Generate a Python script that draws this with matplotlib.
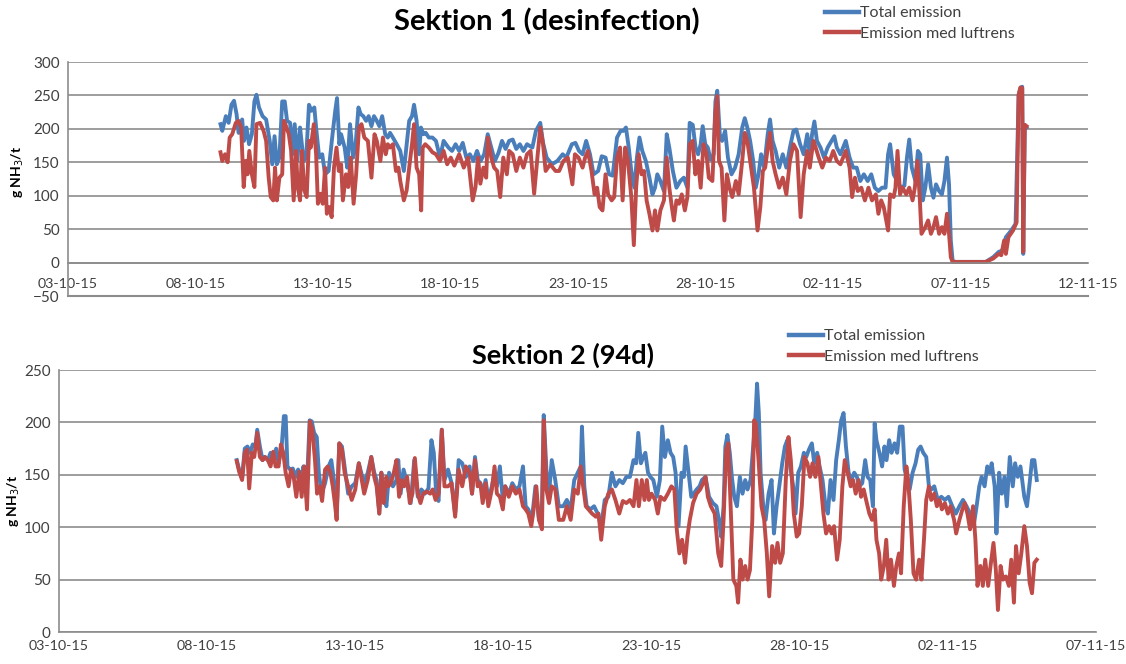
import numpy as np
import pandas as pd
import matplotlib
matplotlib.use("Agg")
import matplotlib.pyplot as plt
import matplotlib.dates as mdates
from matplotlib.lines import Line2D

plt.rcParams['font.family'] = ['Lato', 'DejaVu Sans']

START = pd.Timestamp("2015-10-03")

# Sektion 1 (desinfection) - days after 03-10-15 and g NH3/t
s1_total_day = [5.98, 6.05, 6.19, 6.30, 6.41, 6.51, 6.61, 6.69, 6.83, 6.90, 7.00, 7.10, 7.21, 7.31, 7.39, 7.49,
                7.63, 7.77, 7.91, 8.01, 8.10, 8.19, 8.29, 8.40, 8.50, 8.59, 8.71, 8.80, 8.89, 8.99, 9.10, 9.24,
                9.34, 9.45, 9.55, 9.66, 9.73, 9.85, 9.97, 10.08, 10.22, 10.36, 10.48, 10.55, 10.64, 10.71, 10.85,
                10.95, 11.06, 11.18, 11.27, 11.39, 11.48, 11.58, 11.69, 11.79, 11.90, 12.00, 12.11, 12.21, 12.32,
                12.44, 12.54, 12.63, 12.74, 12.89, 13.03, 13.17, 13.28, 13.38, 13.49, 13.57, 13.67, 13.77, 13.84,
                13.94, 14.03, 14.15, 14.29, 14.43, 14.59, 14.73, 14.92, 15.06, 15.20, 15.34, 15.48, 15.62, 15.76,
                15.90, 16.04, 16.18, 16.32, 16.46, 16.60, 16.74, 16.88, 17.02, 17.16, 17.30, 17.44, 17.58, 17.72,
                17.86, 18.00, 18.21, 18.35, 18.52, 18.63, 18.77, 18.98, 19.19, 19.40, 19.54, 19.76, 19.90, 20.04,
                20.18, 20.32, 20.47, 20.61, 20.79, 20.93, 21.08, 21.22, 21.36, 21.53, 21.67, 21.78, 21.88, 21.99,
                22.09, 22.21, 22.31, 22.41, 22.52, 22.66, 22.80, 22.92, 23.02, 23.11, 23.23, 23.37, 23.48, 23.58,
                23.72, 23.86, 24.01, 24.15, 24.29, 24.38, 24.50, 24.61, 24.71, 24.81, 24.89, 24.99, 25.09, 25.20,
                25.32, 25.39, 25.46, 25.56, 25.65, 25.77, 25.88, 26.02, 26.16, 26.30, 26.44, 26.54, 26.64, 26.75,
                26.87, 26.97, 27.08, 27.18, 27.30, 27.44, 27.53, 27.63, 27.75, 27.89, 28.03, 28.17, 28.31, 28.45,
                28.56, 28.71, 28.85, 28.99, 29.09, 29.18, 29.27, 29.37, 29.51, 29.65, 29.79, 29.94, 30.05, 30.15,
                30.29, 30.50, 30.65, 30.79, 30.93, 31.07, 31.21, 31.36, 31.50, 31.64, 31.78, 31.92, 32.06, 32.16,
                32.24, 32.38, 32.52, 32.66, 32.80, 32.90, 32.99, 33.09, 33.23, 33.33, 33.42, 33.52, 33.62, 33.73,
                33.84, 33.94, 34.04, 34.16, 34.27, 34.37, 34.47, 34.55, 34.62, 34.69, 34.79, 35.99, 36.28, 36.50,
                36.64, 36.78, 36.99, 37.16, 37.28, 37.35, 37.42, 37.46, 37.52, 37.59]
s1_total_val = [207, 197, 219, 209, 236, 242, 222, 194, 214, 182, 202, 177, 192, 241, 251, 232,
                219, 214, 182, 147, 189, 147, 157, 241, 241, 212, 209, 162, 207, 152, 202, 152,
                157, 236, 227, 232, 202, 157, 162, 132, 137, 187, 227, 246, 177, 192, 172,
                142, 207, 157, 172, 232, 222, 219, 212, 219, 204, 219, 212, 204, 219,
                192, 187, 194, 187, 177, 167, 137, 177, 212, 219, 236, 212, 162, 202,
                192, 194, 187, 187, 182, 157, 182, 172, 167, 177, 167, 179, 157, 162,
                152, 167, 152, 162, 192, 172, 152, 164, 182, 170, 182, 184, 170, 177,
                167, 177, 172, 197, 209, 179, 157, 147, 152, 162, 157, 177, 179, 167,
                162, 182, 162, 132, 137, 159, 157, 132, 130, 187, 197, 197, 202, 172,
                137, 112, 157, 187, 167, 152, 127, 102, 112, 132, 122, 107, 192, 172,
                137, 112, 122, 127, 112, 209, 206, 172, 162, 177, 204, 177, 172, 154,
                162, 241, 257, 192, 182, 197, 157, 132, 142, 162, 202, 216, 202, 182,
                152, 112, 132, 162, 142, 192, 214, 182, 167, 142, 162, 142, 172, 197,
                199, 177, 162, 192, 162, 192, 211, 182, 172, 157, 172, 182, 189, 172,
                162, 182, 157, 142, 142, 122, 132, 122, 132, 112, 107, 112, 112, 162,
                177, 132, 122, 112, 115, 157, 184, 142, 122, 167, 162, 93, 112, 147,
                112, 97, 117, 107, 102, 122, 157, 117, 33, 3, 1, 1, 8, 16,
                18, 38, 48, 58, 251, 261, 263, 13, 206, 202]

s1_luft_day = [5.98, 6.05, 6.16, 6.26, 6.34, 6.44, 6.58, 6.69, 6.79, 6.89, 6.97, 7.04, 7.11, 7.21, 7.31, 7.39,
               7.53, 7.67, 7.77, 7.87, 7.95, 8.05, 8.12, 8.19, 8.29, 8.40, 8.47, 8.57, 8.66, 8.75, 8.85, 8.94,
               9.01, 9.10, 9.17, 9.27, 9.36, 9.45, 9.52, 9.64, 9.73, 9.80, 9.90, 9.99, 10.08, 10.15, 10.25,
               10.34, 10.43, 10.53, 10.62, 10.71, 10.78, 10.90, 10.99, 11.09, 11.20, 11.30, 11.41, 11.51, 11.62,
               11.76, 11.90, 12.02, 12.11, 12.25, 12.35, 12.46, 12.54, 12.63, 12.74, 12.86, 12.96, 13.03, 13.17,
               13.28, 13.38, 13.49, 13.57, 13.67, 13.77, 13.85, 13.91, 14.01, 14.15, 14.29, 14.43, 14.59, 14.73,
               14.87, 15.01, 15.15, 15.34, 15.52, 15.69, 15.87, 15.98, 16.08, 16.17, 16.29, 16.40, 16.46, 16.60,
               16.71, 16.83, 16.95, 17.07, 17.21, 17.30, 17.44, 17.58, 17.72, 17.86, 18.00, 18.14, 18.28, 18.42,
               18.52, 18.63, 18.73, 18.91, 19.12, 19.26, 19.43, 19.60, 19.78, 19.88, 20.02, 20.18, 20.28, 20.39,
               20.53, 20.65, 20.75, 20.85, 20.96, 21.08, 21.18, 21.32, 21.42, 21.53, 21.65, 21.75, 21.85, 21.96,
               22.09, 22.19, 22.28, 22.38, 22.49, 22.59, 22.69, 22.80, 22.92, 23.02, 23.11, 23.23, 23.37, 23.48,
               23.58, 23.68, 23.76, 23.86, 23.96, 24.07, 24.19, 24.29, 24.38, 24.50, 24.60, 24.71, 24.81, 24.92,
               25.04, 25.13, 25.27, 25.39, 25.46, 25.53, 25.63, 25.74, 25.84, 25.94, 26.05, 26.19, 26.30, 26.44,
               26.54, 26.64, 26.75, 26.90, 27.04, 27.15, 27.25, 27.34, 27.46, 27.53, 27.63, 27.75, 27.89, 28.03,
               28.17, 28.31, 28.45, 28.59, 28.73, 28.85, 28.99, 29.09, 29.23, 29.32, 29.44, 29.58, 29.72, 29.87,
               30.01, 30.15, 30.29, 30.50, 30.65, 30.75, 30.86, 30.97, 31.11, 31.25, 31.39, 31.53, 31.68, 31.78,
               31.89, 31.99, 32.16, 32.24, 32.38, 32.45, 32.53, 32.63, 32.73, 32.87, 32.99, 33.12, 33.21, 33.31,
               33.40, 33.47, 33.62, 33.73, 33.84, 33.94, 34.04, 34.16, 34.27, 34.37, 34.47, 34.55, 34.62, 34.69,
               35.99, 36.28, 36.50, 36.60, 36.71, 36.78, 36.88, 37.06, 37.20, 37.28, 37.35, 37.42, 37.46, 37.52,
               37.59]
s1_luft_val = [165, 152, 162, 150, 187, 192, 209, 212, 202, 113, 152, 132, 167, 132, 113, 207,
               209, 197, 182, 127, 98, 93, 142, 93, 127, 132, 212, 202, 192, 167, 93, 167,
               113, 93, 167, 108, 98, 182, 172, 207, 162, 88, 103, 88, 142, 73, 83,
               68, 142, 172, 137, 147, 93, 132, 113, 157, 88, 132, 202, 207, 187,
               182, 127, 192, 182, 152, 187, 162, 177, 172, 177, 137, 142, 122, 93,
               108, 142, 177, 207, 142, 132, 78, 172, 177, 172, 165, 162, 152, 167,
               147, 157, 145, 162, 142, 157, 93, 113, 157, 118, 142, 127, 187, 157,
               142, 137, 98, 157, 132, 167, 162, 137, 157, 142, 162, 167, 103, 162,
               202, 177, 137, 147, 137, 137, 152, 157, 117, 162, 157, 142, 157, 167,
               137, 102, 112, 83, 78, 132, 102, 93, 98, 157, 172, 93, 172, 152,
               98, 26, 112, 162, 132, 137, 93, 73, 48, 78, 48, 78, 93, 157,
               112, 83, 63, 93, 88, 102, 78, 98, 177, 182, 132, 152, 112, 177,
               162, 127, 122, 226, 249, 152, 142, 63, 132, 112, 98, 122, 102, 152,
               194, 182, 152, 112, 48, 83, 137, 142, 177, 194, 152, 132, 112, 127,
               102, 152, 177, 167, 68, 132, 167, 142, 182, 172, 157, 142, 157, 152,
               167, 152, 147, 167, 142, 98, 127, 107, 112, 93, 112, 93, 102, 73,
               93, 83, 48, 102, 98, 112, 167, 102, 112, 102, 112, 93, 112, 152,
               98, 43, 53, 63, 43, 53, 68, 43, 53, 43, 73, 43, 8, 1,
               1, 6, 13, 11, 33, 13, 38, 48, 60, 251, 262, 261, 16, 206,
               204]

# Sektion 2 (94d)
s2_total_day = [6.00, 6.08, 6.18, 6.27, 6.36, 6.45, 6.54, 6.63, 6.69, 6.78, 6.87, 6.95, 7.05, 7.14, 7.23, 7.33,
                7.41, 7.51, 7.59, 7.65, 7.71, 7.80, 7.89, 7.99, 8.07, 8.17, 8.25, 8.35, 8.46, 8.53, 8.61, 8.70,
                8.77, 8.86, 8.98, 9.10, 9.19, 9.28, 9.37, 9.46, 9.55, 9.64, 9.76, 9.88, 10.00, 10.12, 10.20,
                10.30, 10.42, 10.54, 10.64, 10.72, 10.81, 10.88, 10.96, 11.05, 11.14, 11.27, 11.39, 11.45, 11.53,
                11.63, 11.75, 11.87, 11.99, 12.11, 12.23, 12.35, 12.47, 12.57, 12.65, 12.73, 12.81, 12.92, 13.01,
                13.13, 13.25, 13.37, 13.49, 13.61, 13.73, 13.86, 13.94, 14.04, 14.13, 14.22, 14.30, 14.40, 14.49,
                14.61, 14.70, 14.78, 14.88, 14.98, 15.06, 15.18, 15.30, 15.42, 15.54, 15.66, 15.75, 15.84, 15.96,
                16.08, 16.20, 16.30, 16.36, 16.45, 16.54, 16.63, 16.75, 16.87, 17.02, 17.14, 17.27, 17.39, 17.51,
                17.61, 17.65, 17.73, 17.81, 17.93, 18.06, 18.18, 18.30, 18.42, 18.54, 18.66, 18.78, 18.91, 19.03,
                19.15, 19.27, 19.39, 19.48, 19.55, 19.64, 19.72, 19.79, 19.88, 19.96, 20.06, 20.18, 20.28, 20.36,
                20.45, 20.55, 20.64, 20.73, 20.81, 20.91, 21.01, 21.09, 21.15, 21.25, 21.34, 21.42, 21.52, 21.62,
                21.70, 21.82, 21.94, 22.07, 22.19, 22.27, 22.35, 22.43, 22.49, 22.56, 22.64, 22.71, 22.79, 22.88,
                22.98, 23.07, 23.16, 23.24, 23.34, 23.44, 23.50, 23.56, 23.62, 23.68, 23.77, 23.85, 23.95, 24.05,
                24.13, 24.22, 24.31, 24.41, 24.50, 24.58, 24.68, 24.78, 24.86, 24.95, 25.04, 25.14, 25.22, 25.31,
                25.41, 25.49, 25.59, 25.67, 25.77, 25.87, 25.95, 26.04, 26.14, 26.23, 26.32, 26.40, 26.48, 26.56,
                26.65, 26.74, 26.84, 26.93, 27.01, 27.11, 27.21, 27.29, 27.38, 27.47, 27.53, 27.59, 27.69, 27.78,
                27.86, 27.93, 28.02, 28.10, 28.20, 28.29, 28.38, 28.47, 28.54, 28.63, 28.71, 28.81, 28.91, 29.00,
                29.08, 29.17, 29.27, 29.36, 29.44, 29.54, 29.66, 29.78, 29.90, 30.02, 30.15, 30.27, 30.39, 30.51,
                30.63, 30.75, 30.87, 30.97, 31.06, 31.14, 31.24, 31.33, 31.42, 31.48, 31.58, 31.64, 31.73, 31.82,
                31.91, 31.99, 32.09, 32.19, 32.27, 32.36, 32.45, 32.58, 32.67, 32.76, 32.84, 32.92, 33.00]
s2_total_val = [164, 155, 147, 175, 177, 171, 179, 177, 193, 177, 164, 167, 164, 171, 163, 175,
                161, 175, 206, 206, 158, 155, 156, 148, 155, 145, 158, 129, 202, 201, 190, 186,
                152, 132, 142, 158, 164, 145, 110, 180, 177, 158, 132, 139, 142, 161, 152,
                142, 152, 167, 152, 145, 113, 152, 132, 120, 152, 139, 145, 164, 132,
                155, 142, 123, 164, 129, 136, 132, 137, 183, 171, 132, 125, 193, 145,
                155, 142, 113, 164, 161, 148, 158, 132, 167, 145, 142, 132, 145, 126,
                139, 152, 139, 158, 126, 139, 132, 142, 136, 139, 158, 120, 117, 107,
                139, 107, 120, 207, 155, 132, 164, 145, 120, 120, 126, 117, 145, 152,
                158, 196, 139, 120, 117, 120, 113, 101, 126, 129, 152, 139, 145, 142,
                148, 148, 164, 161, 190, 161, 167, 171, 152, 148, 145, 129, 145, 196,
                167, 183, 171, 167, 152, 101, 152, 148, 177, 152, 129, 132, 136, 139,
                145, 148, 129, 123, 120, 107, 91, 120, 177, 188, 171, 148, 129, 120,
                148, 132, 145, 136, 145, 180, 202, 237, 209, 152, 120, 107, 132, 145,
                94, 120, 139, 161, 177, 183, 158, 139, 113, 152, 158, 171, 167, 174,
                180, 161, 171, 158, 145, 120, 113, 145, 126, 164, 183, 202, 209, 177,
                152, 145, 152, 148, 139, 142, 164, 148, 145, 120, 199, 183, 171, 158,
                177, 164, 183, 171, 180, 171, 196, 196, 155, 145, 136, 152, 161, 174,
                177, 171, 167, 139, 136, 139, 126, 129, 126, 129, 120, 113, 120, 126,
                120, 113, 101, 120, 139, 148, 139, 158, 152, 161, 139, 94, 152, 132,
                148, 120, 167, 139, 161, 148, 158, 129, 120, 142, 164, 164, 145]

s2_luft_day = [6.00, 6.08, 6.18, 6.27, 6.35, 6.42, 6.51, 6.59, 6.69, 6.78, 6.87, 6.95, 7.05, 7.14, 7.23, 7.31,
               7.41, 7.49, 7.57, 7.65, 7.75, 7.83, 7.92, 8.01, 8.11, 8.19, 8.28, 8.37, 8.47, 8.55, 8.64, 8.71,
               8.80, 8.88, 8.98, 9.07, 9.16, 9.24, 9.31, 9.37, 9.46, 9.55, 9.64, 9.76, 9.88, 10.00, 10.12,
               10.20, 10.30, 10.42, 10.54, 10.64, 10.72, 10.81, 10.88, 10.96, 11.05, 11.12, 11.20, 11.30, 11.39,
               11.48, 11.57, 11.65, 11.75, 11.84, 11.93, 12.01, 12.11, 12.20, 12.29, 12.41, 12.53, 12.61, 12.71,
               12.81, 12.92, 13.01, 13.13, 13.25, 13.37, 13.49, 13.61, 13.73, 13.86, 13.94, 14.04, 14.13, 14.22,
               14.30, 14.40, 14.49, 14.61, 14.70, 14.78, 14.88, 14.98, 15.06, 15.18, 15.30, 15.42, 15.54, 15.66,
               15.75, 15.84, 15.94, 16.02, 16.11, 16.20, 16.30, 16.36, 16.45, 16.54, 16.63, 16.75, 16.87, 17.02,
               17.14, 17.27, 17.39, 17.51, 17.61, 17.69, 17.78, 17.87, 17.99, 18.12, 18.21, 18.30, 18.42, 18.54,
               18.66, 18.78, 18.91, 19.03, 19.15, 19.27, 19.39, 19.49, 19.57, 19.67, 19.76, 19.84, 19.91, 20.00,
               20.12, 20.21, 20.30, 20.43, 20.55, 20.67, 20.77, 20.85, 20.94, 21.03, 21.13, 21.21, 21.29, 21.40,
               21.52, 21.64, 21.74, 21.82, 21.90, 22.00, 22.13, 22.25, 22.35, 22.43, 22.52, 22.59, 22.67, 22.76,
               22.86, 22.92, 23.00, 23.07, 23.16, 23.24, 23.32, 23.40, 23.46, 23.52, 23.61, 23.71, 23.80, 23.89,
               23.97, 24.07, 24.17, 24.25, 24.34, 24.43, 24.53, 24.62, 24.70, 24.80, 24.90, 24.98, 25.07, 25.16,
               25.26, 25.35, 25.43, 25.53, 25.63, 25.72, 25.80, 25.89, 25.99, 26.08, 26.16, 26.26, 26.35, 26.44,
               26.52, 26.62, 26.72, 26.80, 26.89, 26.99, 27.07, 27.16, 27.24, 27.35, 27.44, 27.53, 27.59, 27.68,
               27.75, 27.84, 27.92, 28.00, 28.08, 28.18, 28.26, 28.35, 28.42, 28.51, 28.60, 28.66, 28.75, 28.84,
               28.93, 29.03, 29.11, 29.20, 29.27, 29.36, 29.44, 29.54, 29.63, 29.72, 29.80, 29.90, 30.00, 30.09,
               30.21, 30.28, 30.39, 30.49, 30.57, 30.66, 30.75, 30.85, 30.93, 31.00, 31.10, 31.18, 31.26, 31.36,
               31.44, 31.54, 31.62, 31.69, 31.78, 31.86, 31.96, 32.06, 32.14, 32.23, 32.30, 32.39, 32.48, 32.58,
               32.67, 32.76, 32.84, 32.92, 33.00]
s2_luft_val = [163, 153, 145, 171, 174, 137, 171, 167, 190, 167, 164, 167, 164, 158, 172, 158,
               158, 179, 171, 152, 139, 155, 148, 129, 153, 129, 158, 117, 201, 193, 164, 132,
               139, 125, 155, 158, 152, 139, 123, 107, 180, 174, 152, 139, 126, 136, 161,
               148, 132, 145, 167, 148, 139, 113, 152, 123, 148, 139, 142, 152, 164,
               129, 145, 139, 148, 123, 132, 166, 132, 123, 132, 134, 132, 136, 126,
               132, 193, 139, 139, 142, 110, 155, 139, 158, 152, 132, 164, 139, 142,
               123, 142, 120, 136, 158, 132, 129, 117, 139, 129, 139, 132, 136, 120,
               117, 113, 101, 117, 139, 107, 98, 202, 136, 123, 139, 136, 107, 107,
               120, 107, 136, 132, 158, 139, 120, 117, 113, 110, 113, 88, 120, 132,
               136, 126, 113, 125, 123, 126, 120, 145, 120, 145, 126, 145, 126, 132,
               126, 113, 129, 126, 132, 139, 136, 98, 75, 88, 66, 91, 107, 123,
               132, 136, 142, 148, 129, 120, 113, 75, 63, 107, 174, 180, 120, 50,
               44, 28, 69, 50, 63, 50, 59, 107, 202, 199, 164, 120, 107, 75,
               34, 82, 66, 85, 66, 75, 145, 186, 164, 113, 91, 94, 120, 167,
               161, 148, 161, 148, 167, 139, 113, 94, 101, 94, 101, 69, 88, 139,
               164, 152, 139, 145, 132, 145, 129, 136, 126, 113, 107, 117, 88, 75,
               50, 63, 88, 50, 69, 44, 63, 75, 56, 120, 158, 145, 107, 56,
               50, 69, 50, 91, 126, 139, 126, 132, 120, 126, 117, 123, 113, 120,
               107, 94, 107, 117, 123, 113, 98, 120, 88, 44, 63, 44, 69, 44,
               63, 85, 59, 21, 63, 50, 53, 44, 69, 28, 82, 56, 75, 101,
               82, 47, 37, 66, 69]

x_ticks_1 = pd.date_range("2015-10-03", "2015-11-12", freq="5D")
x_ticks_2 = pd.date_range("2015-10-03", "2015-11-07", freq="5D")
y_ticks_1 = list(range(-50, 301, 50))
y_ticks_2 = list(range(0, 251, 50))

BLUE = "#4A7EBB"
RED = "#BE4B48"
GRID = "#8C8C8C"
TXT = "#404040"
W, H = 1126, 664


def to_dates(days):
    return START + pd.to_timedelta(np.array(days), unit="D")


def style_axis(ax, x_ticks, y_ticks, xmax):
    ax.set_xlim(x_ticks[0], pd.Timestamp(xmax))
    ax.set_ylim(y_ticks[0], y_ticks[-1])
    ax.set_xticks(x_ticks)
    ax.xaxis.set_major_formatter(mdates.DateFormatter("%d-%m-%y"))
    ax.set_yticks(y_ticks)
    for s in ["top", "right"]:
        ax.spines[s].set_visible(False)
    for s in ["left", "bottom"]:
        ax.spines[s].set_color(GRID)
        ax.spines[s].set_linewidth(1.2)
    ax.grid(axis="y", color=GRID, linewidth=1.2)
    ax.set_axisbelow(True)
    ax.tick_params(length=0, labelsize=10.3, colors=TXT, pad=6)
    ax.tick_params(axis="y", labelsize=11)
    ax.set_ylabel("g NH$_3$/t", fontsize=10, fontweight="bold", color="black")


fig = plt.figure(figsize=(W / 100, H / 100), dpi=100)

# top panel
ax1 = fig.add_axes([68 / W, 1 - 296 / H, 1020 / W, 234 / H])
ax1.plot(to_dates(s1_total_day), s1_total_val, color=BLUE, lw=2.8)
ax1.plot(to_dates(s1_luft_day), s1_luft_val, color=RED, lw=2.8)
style_axis(ax1, x_ticks_1, y_ticks_1, "2015-11-12")
ax1.spines["bottom"].set_position(("data", 0))
ax1.tick_params(axis="x", pad=11)
ax1.axhline(-50, color=GRID, lw=1.5, clip_on=False)
ax1.yaxis.set_label_coords(-0.041, 0.53)
fig.text(547 / W, 1 - 22 / H, "Sektion 1 (desinfection)", ha="center", va="center",
         fontsize=21, fontweight="bold")

# bottom panel
ax2 = fig.add_axes([59 / W, 1 - 632 / H, 1037 / W, 262 / H])
ax2.plot(to_dates(s2_total_day), s2_total_val, color=BLUE, lw=2.8)
ax2.plot(to_dates(s2_luft_day), s2_luft_val, color=RED, lw=2.8)
style_axis(ax2, x_ticks_2, y_ticks_2, "2015-11-07")
ax2.yaxis.set_label_coords(-0.036, 0.5)
fig.text(563 / W, 1 - 355 / H, "Sektion 2 (94d)", ha="center", va="center",
         fontsize=19.5, fontweight="bold")

handles = [Line2D([], [], color=BLUE, lw=3.2), Line2D([], [], color=RED, lw=3.2)]
labels = ["Total emission", "Emission med luftrens"]
for lx, ly in [(825, 6), (789, 329)]:
    fig.legend(handles, labels, loc="upper left", bbox_to_anchor=(lx / W, 1 - ly / H),
               frameon=False, fontsize=11.5, handlelength=2.1, handletextpad=0.1,
               labelspacing=0.42, borderpad=0, borderaxespad=0, labelcolor=TXT)

fig.savefig("out.png", dpi=100)
